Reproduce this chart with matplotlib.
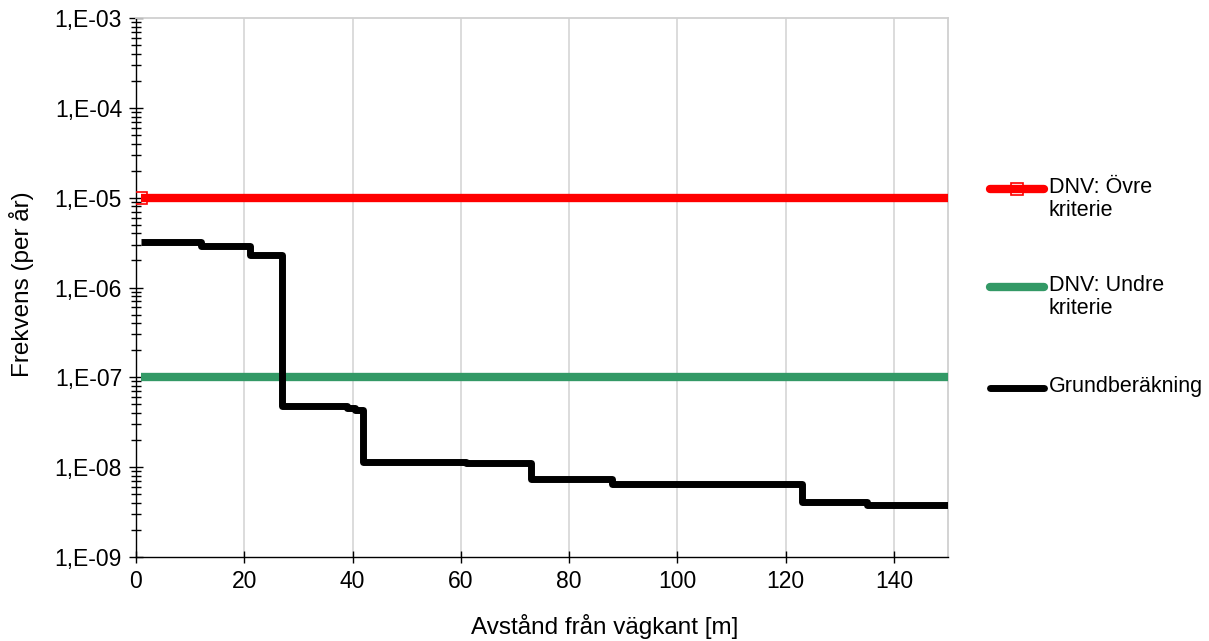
import math
import matplotlib
matplotlib.use("Agg")
import matplotlib.pyplot as plt
from matplotlib.lines import Line2D
from matplotlib.ticker import FixedLocator, FuncFormatter, LogLocator, NullFormatter

plt.rcParams['font.family'] = ['Liberation Sans', 'DejaVu Sans']

# Step data (x = distance [m], y = frequency per year)
step_x = [1, 12, 21, 27, 39, 40.5, 42, 61, 73, 88, 123, 135, 150]
step_y = [3.2e-6, 2.9e-6, 2.3e-6, 4.8e-8, 4.5e-8, 4.3e-8, 1.14e-8, 1.12e-8,
          7.3e-9, 6.45e-9, 4.05e-9, 3.75e-9, 3.75e-9]

crit_x = [1, 150]
upper_crit = [1e-5, 1e-5]
lower_crit = [1e-7, 1e-7]

labels = ["DNV: Övre\nkriterie", "DNV: Undre\nkriterie", "Grundberäkning"]
xticks = [0, 20, 40, 60, 80, 100, 120, 140]
xlabel = "Avstånd från vägkant [m]"
ylabel = "Frekvens (per år)"

RED = '#ff0000'
GREEN = '#339966'

W, H = 1209, 641
AX_L, AX_R, AX_T, AX_B = 136, 948, 18, 557
fig = plt.figure(figsize=(W / 100, H / 100), dpi=100)
ax = fig.add_axes([AX_L / W, 1 - AX_B / H, (AX_R - AX_L) / W, (AX_B - AX_T) / H])

ax.plot(crit_x, upper_crit, color=RED, lw=6, solid_capstyle='butt', zorder=3)
ax.plot(crit_x[:1], upper_crit[:1], ls='none', marker='s', markersize=8,
        markerfacecolor='none', markeredgecolor=RED, markeredgewidth=1.2, zorder=5)
ax.plot(crit_x, lower_crit, color=GREEN, lw=6, solid_capstyle='butt', zorder=3)
ax.step(step_x, step_y, where='post', color='black', lw=5,
        solid_joinstyle='round', solid_capstyle='butt', zorder=4)

ax.set_yscale('log')
ax.set_xlim(0, 150)
ax.set_ylim(1e-9, 1e-3)

ax.xaxis.set_major_locator(FixedLocator(xticks))
ax.yaxis.set_major_locator(LogLocator(base=10, numticks=20))
ax.yaxis.set_minor_locator(LogLocator(base=10, subs=range(2, 10), numticks=20))
ax.yaxis.set_minor_formatter(NullFormatter())


def yfmt(v, pos):
    e = int(round(math.log10(v)))
    return "1,E{}{:02d}".format('-' if e < 0 else '+', abs(e))


ax.yaxis.set_major_formatter(FuncFormatter(yfmt))

ax.grid(axis='x', color='#d9d9d9', lw=1.3)
ax.set_axisbelow(True)
for s in ['top', 'right']:
    ax.spines[s].set_color('#d0d0d0')
    ax.spines[s].set_linewidth(1.3)
for s in ['left', 'bottom']:
    ax.spines[s].set_color('black')
    ax.spines[s].set_linewidth(1.0)

ax.tick_params(axis='x', which='major', direction='inout', length=9, width=1,
               labelsize=16.5, pad=5)
ax.tick_params(axis='y', which='major', direction='inout', length=10, width=1,
               labelsize=16.5, pad=5)
ax.tick_params(axis='y', which='minor', direction='inout', length=7, width=1)
ax.tick_params(top=False, right=False, which='both')

ax.set_xlabel(xlabel, fontsize=17.5)
ax.xaxis.set_label_coords((605 - AX_L) / (AX_R - AX_L), -(614 - AX_B) / (AX_B - AX_T))
ax.set_ylabel(ylabel, fontsize=17.5)
ax.yaxis.set_label_coords(-(AX_L - 34) / (AX_R - AX_L), (AX_B - 284) / (AX_B - AX_T))

# Legend drawn at the right, handle aligned with first text line
leg_items = [
    (labels[0], RED, 189, True),
    (labels[1], GREEN, 287, False),
    (labels[2], 'black', 388, False),
]
for text, col, ypx, mark in leg_items:
    yf = 1 - ypx / H
    ln = Line2D([990 / W, 1044 / W], [yf, yf], transform=fig.transFigure,
                color=col, lw=6 if col != 'black' else 5, solid_capstyle='round')
    fig.add_artist(ln)
    if mark:
        mk = Line2D([1017 / W], [yf], transform=fig.transFigure, ls='none',
                    marker='s', markersize=8, markerfacecolor='none',
                    markeredgecolor=col, markeredgewidth=1.2)
        fig.add_artist(mk)
    fig.text(1049 / W, yf + 12 / H, text, fontsize=15.5, ha='left', va='top',
             linespacing=1.1)

fig.savefig("out.png", dpi=100)
